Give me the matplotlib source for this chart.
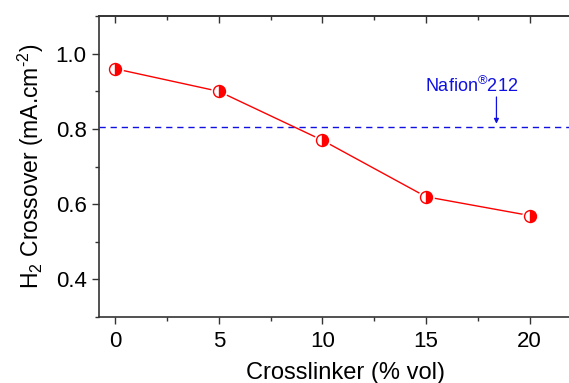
import matplotlib
matplotlib.use("Agg")
import matplotlib.pyplot as plt
from matplotlib.ticker import MultipleLocator

plt.rcParams['font.family'] = ['Liberation Sans', 'DejaVu Sans']
plt.rcParams['mathtext.fontset'] = 'custom'
plt.rcParams['mathtext.rm'] = 'Liberation Sans'
plt.rcParams['mathtext.it'] = 'Liberation Sans'
plt.rcParams['axes.unicode_minus'] = False

# Crosslinker content (% vol) and H2 crossover current density (mA/cm2)
crosslinker = [0, 5, 10, 15, 20]
crossover = [0.96, 0.90, 0.77, 0.62, 0.57]
nafion_ref = 0.806
nafion_label = r'$\mathregular{Nafion^{®}212}$'

fig = plt.figure(figsize=(5.69, 3.83), dpi=100)
ax = fig.add_axes([0.174, 0.172, 0.866, 0.786])

spine_col = '#333333'
ax.set_xlim(-0.78, 23.0)
ax.set_ylim(0.3, 1.1)

# reference membrane level
ax.axhline(nafion_ref, color='#1010e0', lw=1.0, linestyle=(0, (4.5, 3.5)), zorder=1)
ax.annotate('', xy=(18.4, nafion_ref + 0.008), xytext=(18.4, 0.885),
            arrowprops=dict(arrowstyle='-|>', color='#1010e0', lw=0.9,
                            mutation_scale=7, shrinkA=0, shrinkB=0))
ax.text(17.2, 0.915, nafion_label, color='#1010e0', fontsize=13,
        ha='center', va='center')

# data line, white halos, half-filled markers
ax.plot(crosslinker, crossover, color='red', lw=1.0, zorder=2)
ax.plot(crosslinker, crossover, 'o', color='white', ms=12, mec='none', zorder=3)
ax.plot(crosslinker, crossover, 'o', ms=8.6, fillstyle='right',
        markerfacecolor='red', markerfacecoloralt='white',
        markeredgecolor='red', markeredgewidth=1.0, zorder=4)

ax.set_xlabel('Crosslinker (% vol)', fontsize=17, labelpad=7)
ax.set_ylabel(r'$\mathregular{H_2}$ Crossover (mA.cm$^{\mathregular{\text{-}2}}$)',
              fontsize=16.5, labelpad=7)

ax.xaxis.set_major_locator(MultipleLocator(5))
ax.xaxis.set_minor_locator(MultipleLocator(2.5))
ax.yaxis.set_major_locator(MultipleLocator(0.2))
ax.yaxis.set_minor_locator(MultipleLocator(0.1))
ax.set_yticks([0.4, 0.6, 0.8, 1.0])
ax.set_yticklabels(['0.4', '0.6', '0.8', '1.0'])

ax.tick_params(which='major', direction='out', length=5, width=1.0,
               color=spine_col, labelsize=16, pad=4)
ax.tick_params(which='minor', direction='out', length=3, width=1.0,
               color=spine_col)
ax.tick_params(axis='x', which='major', pad=5)

for side in ['left', 'bottom', 'top']:
    ax.spines[side].set_color(spine_col)
    ax.spines[side].set_linewidth(1.2)
ax.spines['right'].set_visible(False)

# inward ticks along the top frame
top = ax.secondary_xaxis('top')
top.xaxis.set_major_locator(MultipleLocator(5))
top.xaxis.set_minor_locator(MultipleLocator(2.5))
top.tick_params(which='major', direction='in', length=5, width=1.0,
                color=spine_col, labeltop=False)
top.tick_params(which='minor', direction='in', length=3, width=1.0,
                color=spine_col)
top.spines['top'].set_color(spine_col)
top.spines['top'].set_linewidth(1.2)

fig.savefig('out.png', dpi=100)
